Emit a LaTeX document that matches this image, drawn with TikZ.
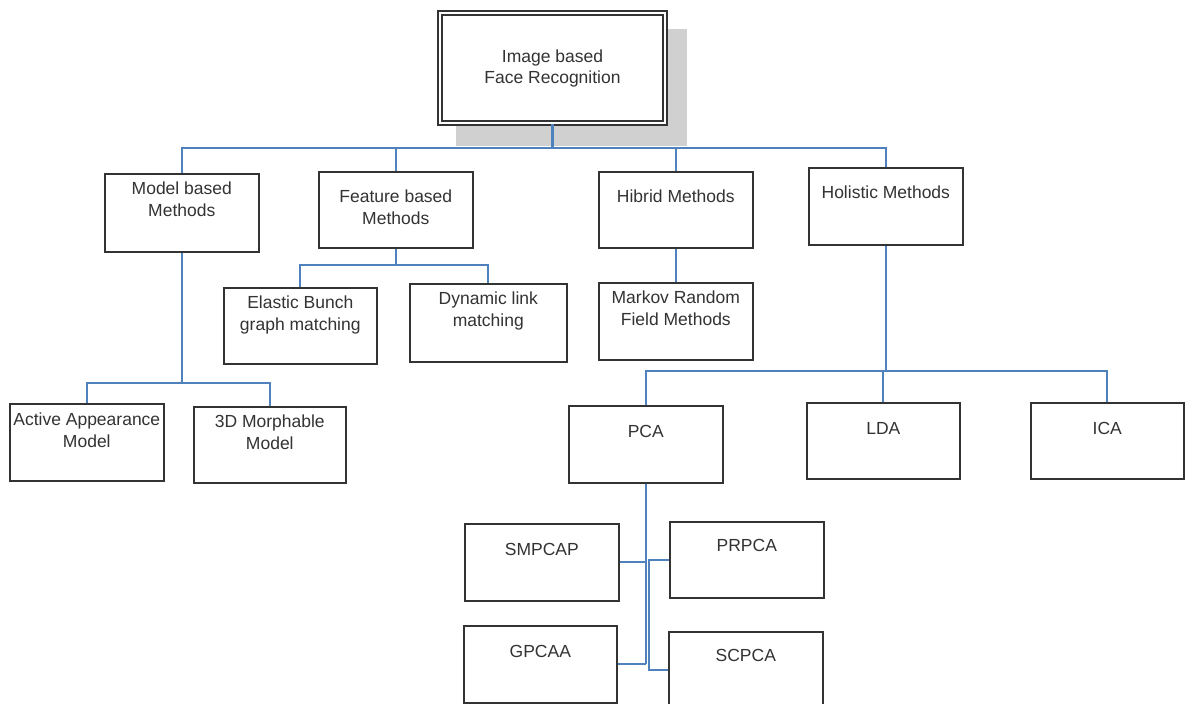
\documentclass[tikz,border=0pt]{standalone}
\usepackage{fontspec}
\setmainfont{Liberation Sans}
\usetikzlibrary{calc}
\definecolor{conncol}{HTML}{4F81BD}
\definecolor{boxcol}{HTML}{333333}
\definecolor{txtcol}{HTML}{333333}
\definecolor{shadowcol}{HTML}{D0D0D0}
\begin{document}
\begin{tikzpicture}[x=1pt,y=-1pt,
  bx/.style={draw=boxcol, line width=1.6pt, fill=white, inner sep=0pt, anchor=north west},
  lbl/.style={anchor=north, inner sep=0pt, align=center, text=txtcol, font=\fontsize{17.5}{21.5}\selectfont},
  conn/.style={draw=conncol, line width=1.9pt},
  trunk/.style={draw=conncol, line width=2.6pt},
]
\useasboundingbox (0,0) rectangle (1186,704);
\clip (0,0) rectangle (1186,704);
% shadow of top box
\fill[shadowcol] (456,29) rectangle (687,146);
% top box
\node[draw=boxcol, line width=1.5pt, double=white, double distance=2.6pt, fill=white,
      minimum width=225pt, minimum height=110pt, inner sep=0pt, align=center, text=txtcol,
      font=\fontsize{17.5}{21.5}\selectfont] (top) at (552.5,68) {Image based\\[-0.5pt]Face Recognition};
% level 2
\node[bx, minimum width=154pt, minimum height=78pt, label={[lbl,yshift=-9pt]north:{Model based\\Methods}}] (model) at (104,173) {};
\node[bx, minimum width=154pt, minimum height=76pt, label={[lbl,yshift=-19pt]north:{Feature based\\Methods}}] (feature) at (318,171) {};
\node[bx, minimum width=154pt, minimum height=76pt, label={[lbl,yshift=-19pt]north:{Hibrid Methods}}] (hibrid) at (598,171) {};
\node[bx, minimum width=154pt, minimum height=77pt, label={[lbl,yshift=-19pt]north:{Holistic Methods}}] (holistic) at (808,167) {};
% level 3
\node[bx, minimum width=153pt, minimum height=76pt, label={[lbl,yshift=-9pt]north:{Elastic Bunch\\graph matching}}] (elastic) at (223,287) {};
\node[bx, minimum width=157pt, minimum height=78pt, label={[lbl,yshift=-9pt]north:{Dynamic link\\matching}}] (dynamic) at (409,283) {};
\node[bx, minimum width=154pt, minimum height=77pt, label={[lbl,yshift=-9pt]north:{Markov Random\\Field Methods}}] (markov) at (598,282) {};
\node[bx, minimum width=154pt, minimum height=77pt, label={[lbl,yshift=-10pt]north:{Active Appearance\\Model}}] (active) at (9,403) {};
\node[bx, minimum width=152pt, minimum height=76pt, label={[lbl,yshift=-9pt]north:{3D Morphable\\Model}}] (morph) at (193,406) {};
\node[bx, minimum width=154pt, minimum height=77pt, label={[lbl,yshift=-20pt]north:{PCA}}] (pca) at (568,405) {};
\node[bx, minimum width=153pt, minimum height=76pt, label={[lbl,yshift=-20pt]north:{LDA}}] (lda) at (806,402) {};
\node[bx, minimum width=153pt, minimum height=76pt, label={[lbl,yshift=-20pt]north:{ICA}}] (ica) at (1030,402) {};
% PCA children
\node[bx, minimum width=154pt, minimum height=77pt, label={[lbl,yshift=-20pt]north:{SMPCAP}}] (smpcap) at (464,523) {};
\node[bx, minimum width=154pt, minimum height=76pt, label={[lbl,yshift=-18pt]north:{PRPCA}}] (prpca) at (669,521) {};
\node[bx, minimum width=153pt, minimum height=77pt, label={[lbl,yshift=-20pt]north:{GPCAA}}] (gpcaa) at (463,625) {};
\node[bx, minimum width=154pt, minimum height=77pt, label={[lbl,yshift=-18pt]north:{SCPCA}}] (scpca) at (668,631) {};
% bus coordinates
\coordinate (busA) at (0,148);
\coordinate (busF) at (0,265);
\coordinate (busM) at (0,383);
\coordinate (busH) at (0,371);
\coordinate (pcb) at ($(pca.south)+(3,0)$);
% connectors level 1 -> 2
\draw[trunk] (top.south) -- (top.south |- busA);
\draw[conn] (model.north) -- (model.north |- busA) -- (holistic.north |- busA) -- (holistic.north);
\draw[conn] (feature.north) -- (feature.north |- busA);
\draw[conn] (hibrid.north) -- (hibrid.north |- busA);
% feature subtree
\draw[conn] (feature.south) -- (feature.south |- busF);
\draw[conn] (elastic.north) -- (elastic.north |- busF) -- (dynamic.north |- busF) -- (dynamic.north);
% hibrid subtree
\draw[conn] (hibrid.south) -- (markov.north);
% model subtree
\draw[trunk] (model.south) -- (model.south |- busM);
\draw[conn] (active.north) -- (active.north |- busM) -- (morph.north |- busM) -- (morph.north);
% holistic subtree
\draw[conn] (holistic.south) -- (holistic.south |- busH);
\draw[conn] (pca.north) -- (pca.north |- busH) -- (ica.north |- busH) -- (ica.north);
\draw[conn] (lda.north) -- (lda.north |- busH);
% PCA subtree
\draw[trunk] (pca.south) -- (pca.south |- gpcaa.east);
\draw[conn] (smpcap.east) -- (smpcap.east -| pca.south);
\draw[conn] (gpcaa.east) -- (gpcaa.east -| pca.south);
\draw[conn] (prpca.west) -- (prpca.west -| pcb) -- (scpca.west -| pcb) -- (scpca.west);
\end{tikzpicture}
\end{document}
